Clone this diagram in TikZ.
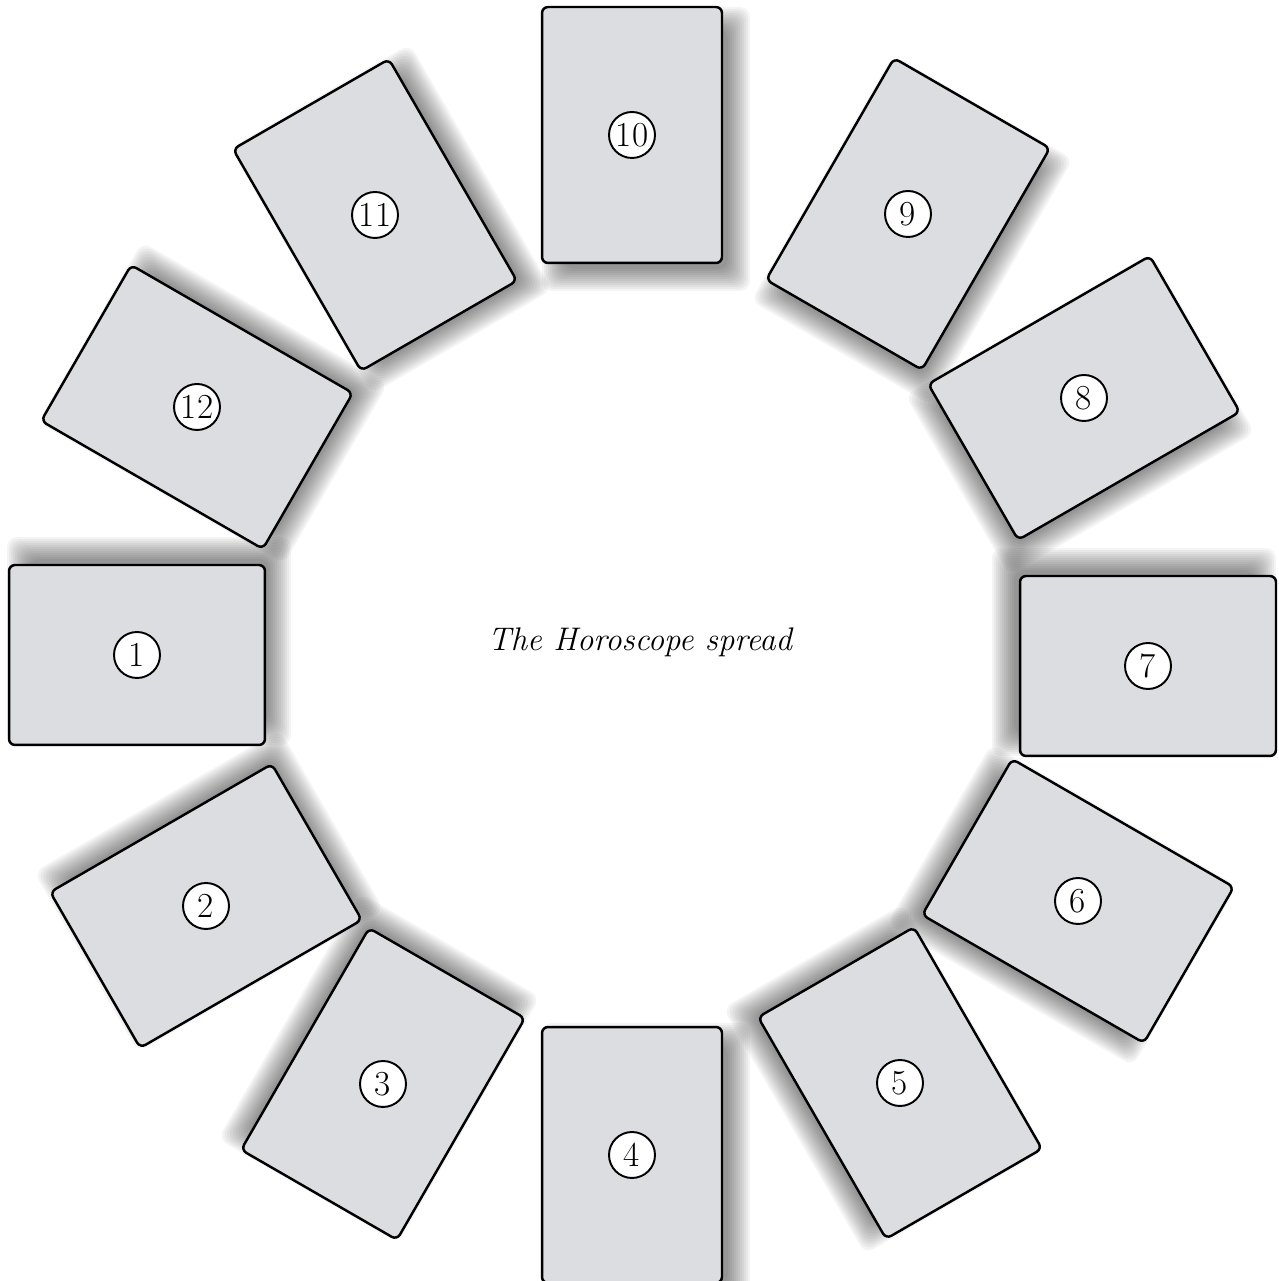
\documentclass[tikz,border=0pt]{standalone}
\usetikzlibrary{positioning}
\definecolor{cardgray}{RGB}{220,221,224}
\tikzset{
  card/.style={rectangle, draw, rounded corners=1.2mm, line width=1.4pt, fill=cardgray,
    minimum width=3.6cm, minimum height=5.12cm, inner sep=0pt},
  cardshade/.style={rectangle, rounded corners=2mm, fill=black, opacity=0.042, inner sep=0pt},
  num/.style={circle, draw, line width=1.1pt, fill=white, minimum size=0.92cm, inner sep=0pt,
    font=\fontsize{20}{24}\selectfont}
}

\begin{document}
\begin{tikzpicture}[x=0.02cm, y=0.02cm]
  \useasboundingbox (0,0) rectangle (1278,1281);

  % soft shadows behind the cards
  \foreach \n/\x/\y/\a/\sx/\sy in {1/137/626/90/12/14, 2/206/375/120/3/15, 3/383/197/150/-4/16,
      4/632/126/0/14/-10, 5/900/198/210/-16/4, 6/1078/380/240/-16/-4, 7/1148/615/270/-14/14,
      8/1084/883/300/-4/-16, 9/908/1067/330/4/-16, 10/632/1146/0/14/-14,
      11/375/1066/30/16/-4, 12/197/874/60/16/4}{
    \foreach \k in {0,...,11}
      \node[cardshade, rotate=\a, minimum width=3.28cm+\k*0.8mm, minimum height=4.8cm+\k*0.8mm]
        at (\x+\sx,\y+\sy) {};
  }

  % the twelve cards
  \foreach \n/\x/\y/\a in {1/137/626/90, 2/206/375/120, 3/383/197/150, 4/632/126/0,
      5/900/198/210, 6/1078/380/240, 7/1148/615/270, 8/1084/883/300,
      9/908/1067/330, 10/632/1146/0, 11/375/1066/30, 12/197/874/60}{
    \node[card, rotate=\a] (card\n) at (\x,\y) {};
    \node[num] (n\n) at (card\n.center) {\n};
  }

  \node[font=\itshape\fontsize{18.6}{22}\selectfont] (title) at (640,639) {The Horoscope spread};
\end{tikzpicture}
\end{document}
